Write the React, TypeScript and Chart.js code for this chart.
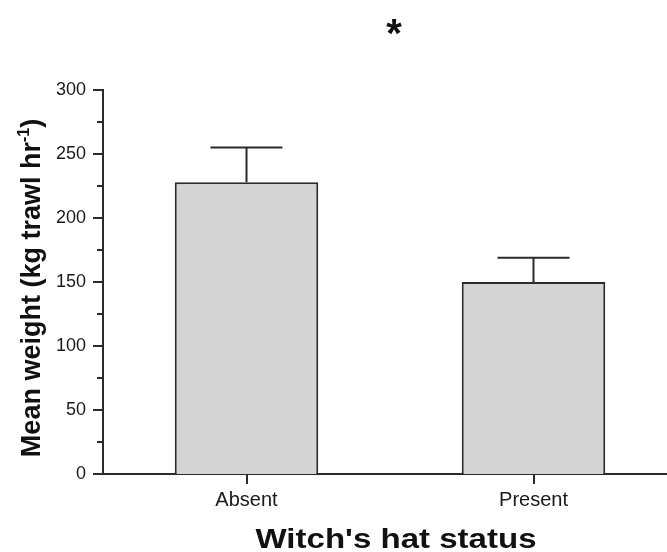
import React, { useEffect, useRef } from "react";
import { Chart, registerables } from "chart.js";

Chart.register(...registerables);

const categories = ["Absent", "Present"];
const means = [228, 150];
const upperErrors = [255, 169];
const yMajorTicks = [0, 50, 100, 150, 200, 250, 300];
const yMinorTicks = [25, 75, 125, 175, 225, 275];
const yTitle = "Mean weight (kg trawl hr";
const yTitleSup = "-1";
const xTitle = "Witch's hat status";
const sigMark = "*";

const FONT = "'Liberation Sans', Arial, sans-serif";
const INK = "#2b2b2b";

export default function App() {
  const ref = useRef<HTMLCanvasElement | null>(null);

  useEffect(() => {
    if (!ref.current) return;

    const decor = {
      id: "decor",
      afterDatasetsDraw(chart: any) {
        const ctx = chart.ctx;
        const ys = chart.scales.y;
        const meta = chart.getDatasetMeta(0);
        ctx.save();
        ctx.strokeStyle = INK;
        ctx.lineWidth = 2;
        // error bars
        meta.data.forEach((el: any, i: number) => {
          const yTop = ys.getPixelForValue(upperErrors[i]);
          ctx.beginPath();
          ctx.moveTo(el.x, el.y);
          ctx.lineTo(el.x, yTop);
          ctx.moveTo(el.x - 36, yTop);
          ctx.lineTo(el.x + 36, yTop);
          ctx.stroke();
        });
        // y tick marks
        const left = chart.chartArea.left;
        const drawTick = (v: number, len: number) => {
          const py = ys.getPixelForValue(v);
          ctx.beginPath();
          ctx.moveTo(left - len, py);
          ctx.lineTo(left, py);
          ctx.stroke();
        };
        yMajorTicks.forEach((v) => drawTick(v, 10));
        yMinorTicks.forEach((v) => drawTick(v, 6));

        // x title
        ctx.fillStyle = "#111";
        ctx.textAlign = "center";
        ctx.textBaseline = "alphabetic";
        ctx.save();
        ctx.translate(396, 548);
        ctx.scale(1.18, 1);
        ctx.font = `bold 28px ${FONT}`;
        ctx.fillText(xTitle, 0, 0);
        ctx.restore();

        // significance mark
        ctx.font = `bold 40px ${FONT}`;
        ctx.fillText(sigMark, 394, 47);

        // y title rotated
        ctx.save();
        ctx.translate(40, 288);
        ctx.rotate(-Math.PI / 2);
        ctx.textAlign = "left";
        ctx.font = `bold 27px ${FONT}`;
        const mainW = ctx.measureText(yTitle).width;
        ctx.font = `bold 16px ${FONT}`;
        const supW = ctx.measureText(yTitleSup).width;
        ctx.font = `bold 27px ${FONT}`;
        const closeW = ctx.measureText(")").width;
        const total = mainW + supW + closeW;
        const x0 = -total / 2;
        ctx.fillText(yTitle, x0, 0);
        ctx.font = `bold 16px ${FONT}`;
        ctx.fillText(yTitleSup, x0 + mainW, -11);
        ctx.font = `bold 27px ${FONT}`;
        ctx.fillText(")", x0 + mainW + supW, 0);
        ctx.restore();
        ctx.restore();
      },
    };

    const chart = new Chart(ref.current, {
      type: "bar",
      data: {
        labels: categories,
        datasets: [
          {
            data: means,
            backgroundColor: "#d4d4d4",
            borderColor: INK,
            borderWidth: 2,
            barPercentage: 0.5,
            categoryPercentage: 1,
          },
        ],
      },
      options: {
        responsive: false,
        animation: false,
        layout: { padding: { top: 90, right: 3, left: 0, bottom: 0 } },
        plugins: { legend: { display: false }, tooltip: { enabled: false }, title: { display: false } },
        scales: {
          x: {
            offset: true,
            afterFit(scale: any) {
              scale.height = 78;
            },
            grid: {
              display: true,
              drawOnChartArea: false,
              offset: false,
              tickLength: 10,
              color: INK,
              lineWidth: 2,
            },
            border: { display: true, color: INK, width: 2 },
            ticks: { color: "#1a1a1a", padding: 4, font: { family: FONT, size: 20 } },
          },
          y: {
            min: 0,
            max: 300,
            afterFit(scale: any) {
              scale.width = 103;
            },
            afterBuildTicks(scale: any) {
              scale.ticks = yMajorTicks.map((v) => ({ value: v }));
            },
            grid: { display: false, drawTicks: true, tickLength: 10 },
            border: { display: true, color: INK, width: 2 },
            ticks: { color: "#1a1a1a", padding: 7, font: { family: FONT, size: 18 } },
          },
        },
      },
      plugins: [decor],
    });
    return () => chart.destroy();
  }, []);

  return (
    <div style={{ position: "absolute", left: 0, top: 0, width: 667, height: 552, overflow: "hidden", background: "#fff" }}>
      <canvas ref={ref} width={680} height={552} style={{ width: 680, height: 552, display: "block" }} />
    </div>
  );
}
